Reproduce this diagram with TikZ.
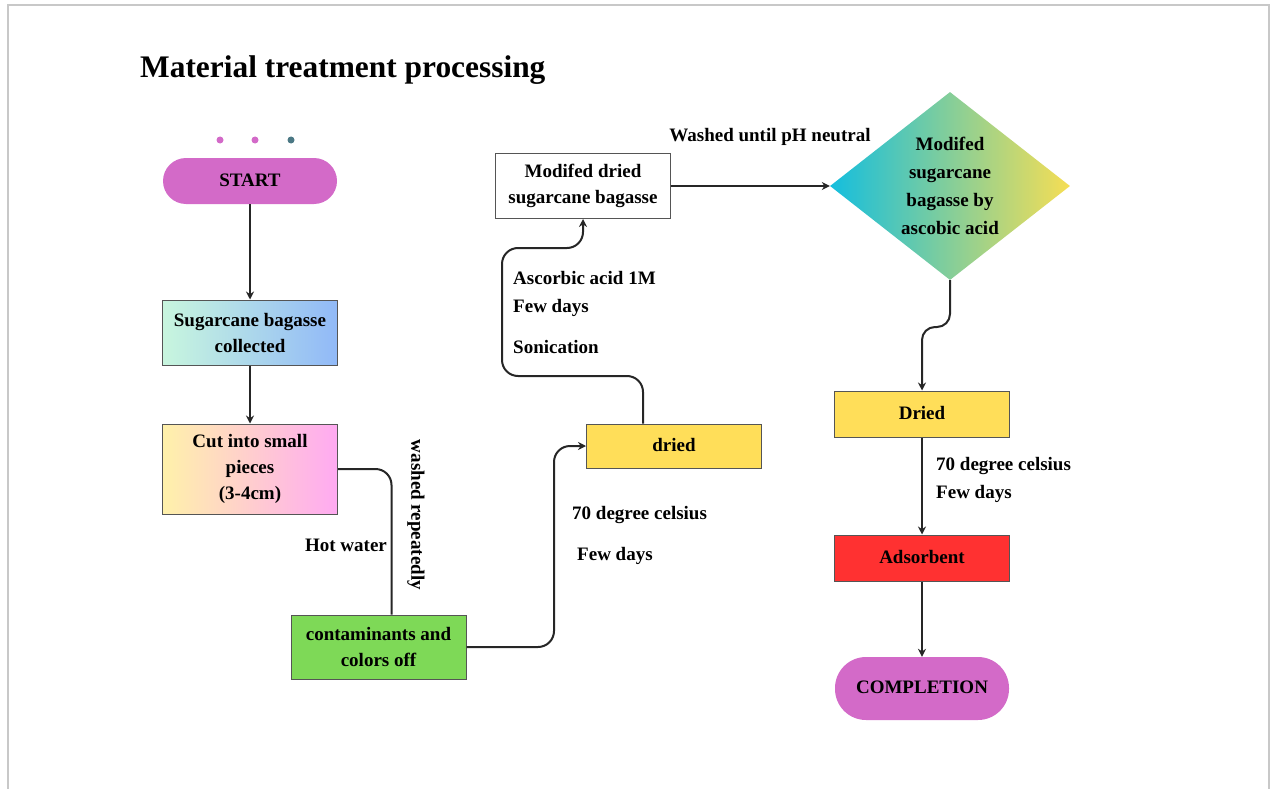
\documentclass[tikz,border=0pt]{standalone}
\usepackage{fontspec}
\setmainfont{Liberation Serif}
\usetikzlibrary{shapes.geometric,arrows.meta}
\definecolor{pillc}{RGB}{211,106,200}
\definecolor{sugL}{RGB}{200,246,222}
\definecolor{sugR}{RGB}{145,185,248}
\definecolor{cutL}{RGB}{255,241,170}
\definecolor{cutR}{RGB}{255,170,242}
\definecolor{greenc}{RGB}{126,217,87}
\definecolor{yellowc}{RGB}{255,222,89}
\definecolor{redc}{RGB}{255,49,49}
\definecolor{diaL}{RGB}{20,190,222}
\definecolor{diaR}{RGB}{246,222,84}
\definecolor{tealdot}{RGB}{75,120,132}
\definecolor{boxborder}{RGB}{85,85,85}
\definecolor{framec}{RGB}{200,200,200}
\tikzset{
  txt/.style={font=\bfseries\fontsize{19}{26}\selectfont, align=center, text=black},
  lbl/.style={font=\bfseries\fontsize{19}{26}\selectfont, text=black, inner sep=0pt},
  pill/.style={txt, fill=pillc, draw=none, minimum width=174pt, rounded corners=23pt},
  boxn/.style={txt, draw=boxborder, line width=1pt, minimum width=175pt, inner sep=0pt},
  conn/.style={line width=2pt, draw=black!85},
  arr/.style={conn, -{Stealth[length=8pt,width=8pt]}},
  dotn/.style={circle, inner sep=0pt, minimum size=7pt},
}
\begin{document}
\begin{tikzpicture}[x=1pt,y=-1pt]
\useasboundingbox (0,0) rectangle (1271,789);
\draw[framec, line width=1.5pt] (8,789) -- (8,5) -- (1269,5) -- (1269,789);

\node[anchor=base west, inner sep=0pt, font=\bfseries\fontsize{31.4}{36}\selectfont] (title) at (140,78) {Material treatment processing};

\node[dotn, fill=pillc] (d1) at (220,140) {};
\node[dotn, fill=pillc] (d2) at (255,140) {};
\node[dotn, fill=tealdot] (d3) at (291,140) {};

\node[pill, minimum height=46pt] (start) at (250,181) {\raisebox{2pt}{START}};
\node[boxn, minimum height=65pt, left color=sugL, right color=sugR] (sug) at (250,332.5) {Sugarcane bagasse\\collected};
\node[boxn, minimum height=90pt, left color=cutL, right color=cutR] (cut) at (250,469) {Cut into small\\pieces\\(3-4cm)};
\node[boxn, minimum height=64pt, fill=greenc] (cont) at (378.5,647) {contaminants and\\colors off};
\node[boxn, minimum height=44pt, fill=yellowc] (dried) at (674,446) {\raisebox{2pt}{dried}};
\node[boxn, minimum height=65pt, fill=white] (mod) at (583,186) {Modifed dried\\sugarcane bagasse};
\node[txt, diamond, aspect=1.28, inner sep=0pt, minimum width=240pt, minimum height=188pt, left color=diaL, right color=diaR, font=\bfseries\fontsize{19}{28}\selectfont] (dia) at (950,186) {Modifed\\sugarcane\\bagasse by\\ascobic acid};
\node[boxn, minimum height=46pt, fill=yellowc] (dried2) at (922,414) {\raisebox{2pt}{Dried}};
\node[boxn, minimum height=46pt, fill=redc] (ads) at (922,558) {\raisebox{2pt}{Adsorbent}};
\node[pill, minimum height=63pt, rounded corners=31pt] (comp) at (922,688.5) {\raisebox{2pt}{COMPLETION}};

% connectors
\draw[arr] (start.south) -- (sug.north);
\draw[arr] (sug.south) -- (cut.north);
\draw[conn, rounded corners=16pt] (cut.east) -| ([xshift=13pt]cont.north);
\draw[arr, rounded corners=16pt] (cont.east) -| (554,446) -- (dried.west);
\draw[arr, rounded corners=16pt] ([xshift=-31pt]dried.north) -- (643,376) -- (502,376) -- (502,248) -- (583,248) -- (mod.south);
\draw[arr] (mod.east) -- (dia.west);
\draw[arr, rounded corners=13pt] (dia.south) -- (950,327) -- (922,327) -- (dried2.north);
\draw[arr] (dried2.south) -- (ads.north);
\draw[arr] (ads.south) -- (comp.north);

% labels
\node[lbl] (lhot) at (346,545) {Hot water};
\node[lbl, rotate=-90] (lwash) at (416,515) {washed repeatedly};
\node[lbl, anchor=west] (l70a) at (572,515) {70 degree celsius};
\node[lbl, anchor=west] (lfewa) at (577,556) {Few days};
\node[lbl, anchor=west] (lasc) at (513,278) {Ascorbic acid 1M};
\node[lbl, anchor=west] (lfewb) at (513,308) {Few days};
\node[lbl, anchor=west] (lson) at (513,347) {Sonication};
\node[lbl] (lph) at (770,137) {Washed until pH neutral};
\node[lbl, anchor=west] (l70b) at (936,466) {70 degree celsius};
\node[lbl, anchor=west] (lfewc) at (936,494) {Few days};
\end{tikzpicture}
\end{document}
